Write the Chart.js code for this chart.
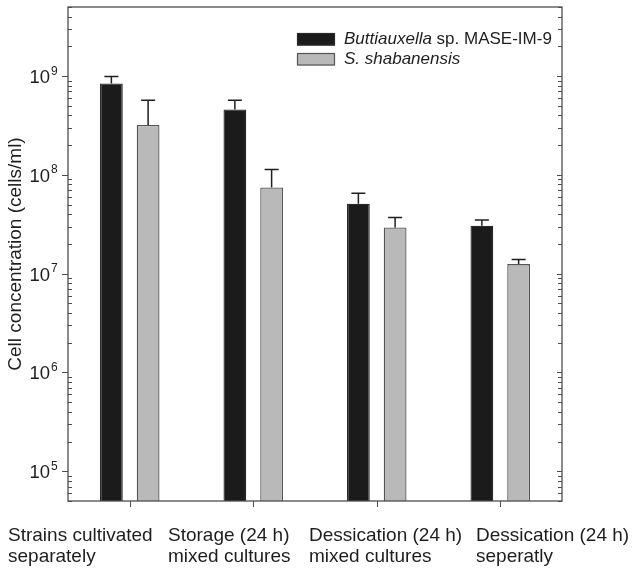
<!DOCTYPE html>
<html>
<head>
<meta charset="utf-8">
<script src="https://cdn.jsdelivr.net/npm/chart.js@4.4.1/dist/chart.umd.min.js"></script>
<style>
html, body { margin: 0; padding: 0; background: #fff; }
</style>
</head>
<body>
<canvas id="chart" width="634" height="569"></canvas>
<script>
// data (upper error only)
var categories = [
    ["Strains cultivated", "separately"],
    ["Storage (24 h)", "mixed cultures"],
    ["Dessication (24 h)", "mixed cultures"],
    ["Dessication (24 h)", "seperatly"]
];
var buttiauxella = [8.4e8, 4.6e8, 5.1e7, 3.05e7];
var buttiauxellaErr = [1.5e8, 1.1e8, 1.4e7, 4.5e6];
var shabanensis = [3.2e8, 7.45e7, 2.93e7, 1.25e7];
var shabanensisErr = [2.5e8, 3.85e7, 7.7e6, 1.4e6];
var yPowers = [5, 6, 7, 8, 9];

// left edges of the hand placed category labels
var labelLeft = [8, 168, 309, 476];

var FONT = "'Liberation Sans', Arial, sans-serif";
var AXIS = "#4d4d4d";
var TEXT = "#1e1e1e";

var decorPlugin = {
    id: "decor",
    afterDatasetsDraw: function (chart) {
        var ctx = chart.ctx;
        var y = chart.scales.y;
        ctx.save();
        ctx.strokeStyle = "#1e1e1e";
        ctx.lineWidth = 1.5;
        chart.data.datasets.forEach(function (ds, i) {
            var meta = chart.getDatasetMeta(i);
            meta.data.forEach(function (bar, j) {
                var top = y.getPixelForValue(ds.data[j] + ds.err[j]);
                ctx.beginPath();
                ctx.moveTo(bar.x, bar.y);
                ctx.lineTo(bar.x, top);
                ctx.moveTo(bar.x - 7, top);
                ctx.lineTo(bar.x + 7, top);
                ctx.stroke();
            });
        });
        ctx.restore();
    },
    afterDraw: function (chart) {
        var ctx = chart.ctx;
        var a = chart.chartArea;
        var y = chart.scales.y;
        var x = chart.scales.x;
        ctx.save();

        // frame
        ctx.strokeStyle = AXIS;
        ctx.lineWidth = 1.3;
        ctx.strokeRect(a.left, a.top, a.right - a.left, a.bottom - a.top);

        // y ticks, major and minor, on both sides
        ctx.lineWidth = 1;
        for (var p = 4; p <= 9; p++) {
            for (var m = 1; m <= 9; m++) {
                var v = m * Math.pow(10, p);
                if (v < y.min || v > y.max) continue;
                var py = Math.round(y.getPixelForValue(v)) + 0.5;
                ctx.beginPath();
                if (m === 1) {
                    ctx.moveTo(a.left - 6, py);
                    ctx.lineTo(a.left, py);
                    ctx.moveTo(a.right - 5, py);
                    ctx.lineTo(a.right, py);
                } else {
                    ctx.moveTo(a.left, py);
                    ctx.lineTo(a.left + 4, py);
                    ctx.moveTo(a.right - 4, py);
                    ctx.lineTo(a.right, py);
                }
                ctx.stroke();
            }
        }

        // x ticks
        categories.forEach(function (c, i) {
            var px = Math.round(x.getPixelForValue(i)) + 0.5;
            ctx.beginPath();
            ctx.moveTo(px, a.bottom);
            ctx.lineTo(px, a.bottom + 6);
            ctx.stroke();
        });

        // y tick labels 10^n
        ctx.fillStyle = TEXT;
        yPowers.forEach(function (p) {
            var py = y.getPixelForValue(Math.pow(10, p));
            ctx.font = "18.5px " + FONT;
            ctx.textAlign = "right";
            ctx.textBaseline = "alphabetic";
            ctx.fillText("10", 50, py + 7);
            ctx.font = "12px " + FONT;
            ctx.textAlign = "left";
            ctx.fillText(String(p), 51, py - 1.5);
        });

        // y title
        ctx.save();
        ctx.translate(20.5, (a.top + a.bottom) / 2);
        ctx.rotate(-Math.PI / 2);
        ctx.font = "19px " + FONT;
        ctx.textAlign = "center";
        ctx.textBaseline = "alphabetic";
        ctx.fillText("Cell concentration (cells/ml)", 0, 0);
        ctx.restore();

        // category labels
        ctx.font = "19px " + FONT;
        ctx.textAlign = "left";
        categories.forEach(function (lines, i) {
            ctx.fillText(lines[0], labelLeft[i], 540.5);
            ctx.fillText(lines[1], labelLeft[i], 562);
        });

        // legend
        var items = [
            { color: "#1b1b1b", border: "#2a2a2a", italic: "Buttiauxella", rest: " sp. MASE-IM-9", y: 33 },
            { color: "#b9b9b9", border: "#555555", italic: "S. shabanensis", rest: "", y: 53 }
        ];
        items.forEach(function (it) {
            ctx.fillStyle = it.color;
            ctx.fillRect(297, it.y, 38, 12.5);
            ctx.strokeStyle = it.border;
            ctx.lineWidth = 1.2;
            ctx.strokeRect(297.5, it.y + 0.5, 37, 11.5);
            ctx.fillStyle = TEXT;
            ctx.textBaseline = "middle";
            ctx.font = "italic 17px " + FONT;
            ctx.fillText(it.italic, 344, it.y + 6.5);
            var w = ctx.measureText(it.italic).width;
            ctx.font = "17px " + FONT;
            ctx.fillText(it.rest, 344 + w, it.y + 6.5);
        });

        ctx.restore();
    }
};

new Chart(document.getElementById("chart"), {
    type: "bar",
    data: {
        labels: categories,
        datasets: [
            {
                label: "Buttiauxella sp. MASE-IM-9",
                data: buttiauxella,
                err: buttiauxellaErr,
                backgroundColor: "#1b1b1b",
                borderColor: "#2a2a2a",
                borderWidth: 1.3
            },
            {
                label: "S. shabanensis",
                data: shabanensis,
                err: shabanensisErr,
                backgroundColor: "#b9b9b9",
                borderColor: "#555555",
                borderWidth: 1.3
            }
        ]
    },
    options: {
        responsive: false,
        animation: false,
        categoryPercentage: 0.595,
        barPercentage: 0.62,
        layout: { padding: { top: 7, right: 72, left: 0, bottom: 0 } },
        plugins: {
            legend: { display: false },
            tooltip: { enabled: false }
        },
        scales: {
            x: {
                grid: { display: false },
                border: { display: false },
                ticks: { display: false },
                afterFit: function (s) { s.height = 68; }
            },
            y: {
                type: "logarithmic",
                min: 5e4,
                max: 5e9,
                grid: { display: false },
                border: { display: false },
                ticks: { display: false },
                afterFit: function (s) { s.width = 68; }
            }
        }
    },
    plugins: [decorPlugin]
});
</script>
</body>
</html>
